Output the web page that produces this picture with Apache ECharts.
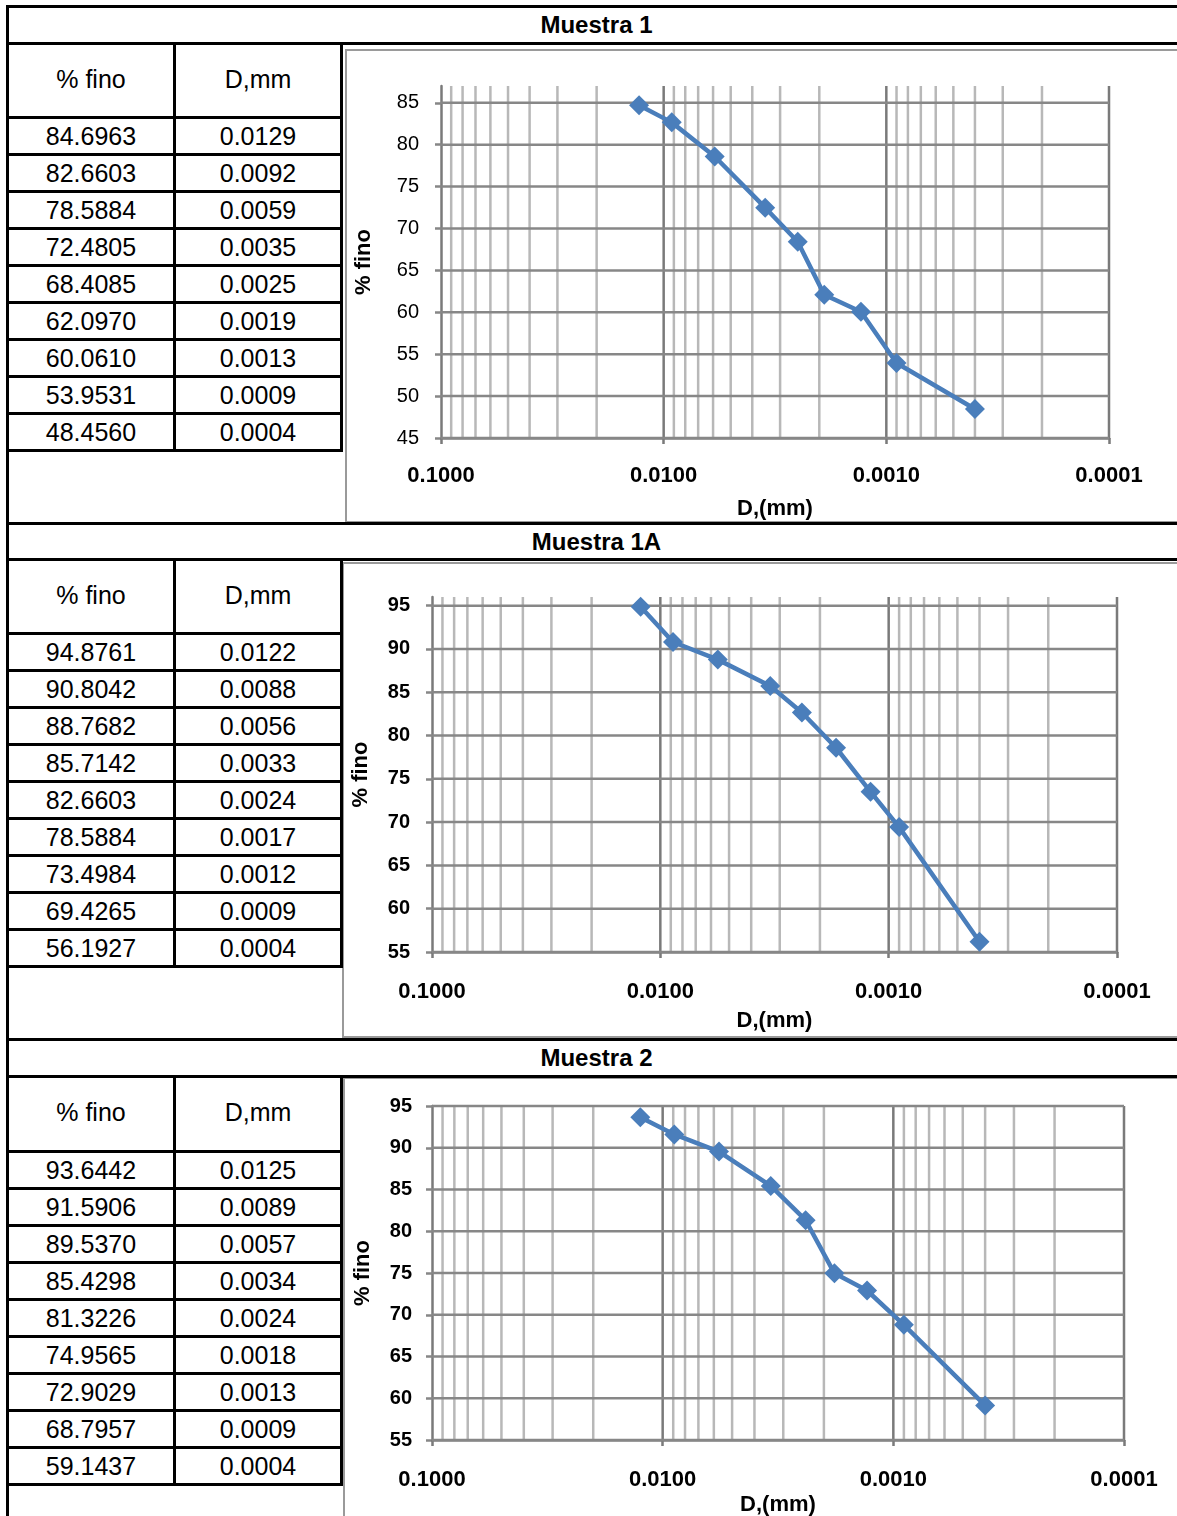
<!DOCTYPE html>
<html>
<head>
<meta charset="utf-8">
<script src="https://cdn.jsdelivr.net/npm/echarts@6/dist/echarts.min.js"></script>
<style>
body { margin: 0; background: #fff; font-family: 'Liberation Sans', Arial, Helvetica, sans-serif; }
#page { position: relative; width: 1177px; height: 1516px; overflow: hidden; }
.ln { position: absolute; background: #000; }
.box { position: absolute; border: 2px solid #9a9a9a; border-right: none; box-sizing: border-box; }
.txt { position: absolute; text-align: center; font-size: 25px; color: #000; }
.ttl { position: absolute; left: 16px; right: 0; text-align: center; font-weight: bold; font-size: 24px; }
#chart { position: absolute; left: 0; top: 0; width: 1177px; height: 1516px; }
</style>
</head>
<body>
<div id="page">
  <div id="chart"></div>
</div>
<script>
// datos de cada muestra
const titulos = ['Muestra 1', 'Muestra 1A', 'Muestra 2']
const cabecera = ['% fino', 'D,mm']

const finoM1 = [84.6963, 82.6603, 78.5884, 72.4805, 68.4085, 62.0970, 60.0610, 53.9531, 48.4560]
const dM1 = [0.0129, 0.0092, 0.0059, 0.0035, 0.0025, 0.0019, 0.0013, 0.0009, 0.0004]

const finoM1A = [94.8761, 90.8042, 88.7682, 85.7142, 82.6603, 78.5884, 73.4984, 69.4265, 56.1927]
const dM1A = [0.0122, 0.0088, 0.0056, 0.0033, 0.0024, 0.0017, 0.0012, 0.0009, 0.0004]

const finoM2 = [93.6442, 91.5906, 89.5370, 85.4298, 81.3226, 74.9565, 72.9029, 68.7957, 59.1437]
const dM2 = [0.0125, 0.0089, 0.0057, 0.0034, 0.0024, 0.0018, 0.0013, 0.0009, 0.0004]

const yTicksM1 = [45, 50, 55, 60, 65, 70, 75, 80, 85]
const yTicksM1A = [55, 60, 65, 70, 75, 80, 85, 90, 95]
const yTicksM2 = [55, 60, 65, 70, 75, 80, 85, 90, 95]

// lineas verticales del papel log
const decadas = [0.0001, 0.001, 0.01]
const pasosMenores = [2, 3, 4, 5, 6, 7, 8, 9]
const mayores = [0.01, 0.001, 0.0001]
const xMin = 0.0001
const xMax = 0.1

const muestras = [
  { fino: finoM1, d: dM1, ticks: yTicksM1 },
  { fino: finoM1A, d: dM1A, ticks: yTicksM1A },
  { fino: finoM2, d: dM2, ticks: yTicksM2 }
]

// posiciones (px) de cada bloque
const bloques = [
  { top: 5, head: 42, rowTop: 116, box: [345, 49, 523], grid: [441, 86, 668, 352], yMax: 87, boldY: false, lblM: 27, nameGap: 60, yGap: 66, yLblM: 22 },
  { top: 522, head: 558, rowTop: 632, box: [342, 562, 1038], grid: [432, 597, 685, 355], yMax: 96, boldY: true, lblM: 29, nameGap: 58, yGap: 60, yLblM: 22 },
  { top: 1038, head: 1075, rowTop: 1150, box: [343, 1077, 1530], grid: [432, 1106, 692, 334], yMax: 95, boldY: true, lblM: 29, nameGap: 54, yGap: 58, yLblM: 20 }
]
const rowH = 37

const page = document.getElementById('page')
function div (cls, css, text) {
  const el = document.createElement('div')
  el.className = cls
  Object.assign(el.style, css)
  if (text !== undefined) el.textContent = text
  page.insertBefore(el, document.getElementById('chart'))
  return el
}

bloques.forEach((b, i) => {
  const m = muestras[i]
  const tableBottom = b.rowTop + rowH * m.fino.length
  // caja gris del grafico
  div('box', { left: b.box[0] + 'px', top: b.box[1] + 'px', width: (1200 - b.box[0]) + 'px', height: (b.box[2] - b.box[1]) + 'px' })
  // lineas negras
  div('ln', { left: '6px', top: b.top + 'px', width: '1171px', height: '3px' })
  div('ln', { left: '6px', top: b.head + 'px', width: '1171px', height: '3px' })
  for (let r = 0; r <= m.fino.length; r++) {
    div('ln', { left: '6px', top: (b.rowTop + r * rowH) + 'px', width: '337px', height: '3px' })
  }
  div('ln', { left: '173px', top: b.head + 'px', width: '3px', height: (tableBottom - b.head + 3) + 'px' })
  div('ln', { left: '340px', top: b.head + 'px', width: '3px', height: (tableBottom - b.head + 3) + 'px' })
  // textos
  div('ttl', { top: b.top + 'px', height: (b.head - b.top + 3) + 'px', lineHeight: (b.head - b.top + 3) + 'px' }, titulos[i])
  const hh = b.rowTop - b.head
  div('txt', { left: '8px', width: '166px', top: b.head + 'px', height: hh + 'px', lineHeight: hh + 'px' }, cabecera[0])
  div('txt', { left: '175px', width: '166px', top: b.head + 'px', height: hh + 'px', lineHeight: hh + 'px' }, cabecera[1])
  m.fino.forEach((f, r) => {
    const t = b.rowTop + r * rowH + 2
    div('txt', { left: '8px', width: '166px', top: t + 'px', height: rowH + 'px', lineHeight: rowH + 'px' }, f.toFixed(4))
    div('txt', { left: '175px', width: '166px', top: t + 'px', height: rowH + 'px', lineHeight: rowH + 'px' }, m.d[r].toFixed(4))
  })
})
div('ln', { left: '6px', top: '5px', width: '3px', height: '1520px' })

const myChart = echarts.init(document.getElementById('chart'))

const grid = []
const xAxis = []
const yAxis = []
const series = []
const colorMayor = '#7a7a7a'
const colorMenor = '#b8b8b8'
const colorHoriz = '#878787'

bloques.forEach((b, i) => {
  const m = muestras[i]
  const yMin = m.ticks[0]
  grid.push({ left: b.grid[0], top: b.grid[1], width: b.grid[2], height: b.grid[3], containLabel: false, outerBoundsMode: 'none' })
  xAxis.push({
    type: 'log',
    logBase: 10,
    gridIndex: i,
    min: xMin,
    max: xMax,
    inverse: true,
    axisLine: { show: true, onZero: false, lineStyle: { color: colorHoriz, width: 2.5 } },
    axisTick: { show: true, length: 6, lineStyle: { color: colorMayor, width: 2.5 } },
    splitLine: { show: false },
    axisLabel: {
      formatter: v => Number(v).toFixed(4),
      fontWeight: 'bold',
      fontSize: 22,
      color: '#000',
      margin: b.lblM
    },
    name: 'D,(mm)',
    nameLocation: 'middle',
    nameGap: b.nameGap,
    nameTextStyle: { fontWeight: 'bold', fontSize: 22, color: '#000' }
  })
  yAxis.push({
    type: 'value',
    gridIndex: i,
    min: yMin,
    max: b.yMax,
    interval: 5,
    axisLine: { show: true, lineStyle: { color: colorMayor, width: 2.5 } },
    axisTick: { show: true, length: 6, customValues: m.ticks, lineStyle: { color: colorHoriz, width: 2.5 } },
    axisLabel: {
      customValues: m.ticks,
      fontSize: 20,
      fontWeight: b.boldY ? 'bold' : 'normal',
      color: '#000',
      margin: b.yLblM
    },
    splitLine: { show: false },
    name: '% fino',
    nameLocation: 'middle',
    nameRotate: 90,
    nameGap: b.yGap,
    nameTextStyle: { fontWeight: 'bold', fontSize: 22, color: '#000' }
  })

  // rejilla: [x, y, tipo]  tipo 0 = vertical menor, 1 = vertical mayor, 2 = horizontal
  const rejilla = []
  decadas.forEach(dec => {
    pasosMenores.forEach(p => rejilla.push([dec * p, yMin, 0]))
  })
  mayores.forEach(v => rejilla.push([v, yMin, 1]))
  m.ticks.forEach(v => rejilla.push([xMax, v, 2]))

  series.push({
    type: 'custom',
    xAxisIndex: i,
    yAxisIndex: i,
    data: rejilla,
    z: 1,
    silent: true,
    animation: false,
    renderItem: (params, api) => {
      const tipo = api.value(2)
      let p1, p2
      if (tipo === 2) {
        p1 = api.coord([xMax, api.value(1)])
        p2 = api.coord([xMin, api.value(1)])
      } else {
        p1 = api.coord([api.value(0), yMin])
        p2 = api.coord([api.value(0), b.yMax])
      }
      return {
        type: 'line',
        z2: tipo,
        shape: { x1: p1[0], y1: p1[1], x2: p2[0], y2: p2[1] },
        style: { stroke: tipo === 0 ? colorMenor : (tipo === 1 ? colorMayor : colorHoriz), lineWidth: 2.5 }
      }
    }
  })
  series.push({
    type: 'line',
    xAxisIndex: i,
    yAxisIndex: i,
    data: m.d.map((v, j) => [v, m.fino[j]]),
    symbol: 'diamond',
    symbolSize: 20,
    z: 5,
    lineStyle: { color: '#4a7ebb', width: 4.5 },
    itemStyle: { color: '#4a7ebb' }
  })
})

myChart.setOption({
  animation: false,
  textStyle: { fontFamily: "'Liberation Sans', Arial, Helvetica, sans-serif" },
  grid,
  xAxis,
  yAxis,
  series
})
</script>
</body>
</html>
